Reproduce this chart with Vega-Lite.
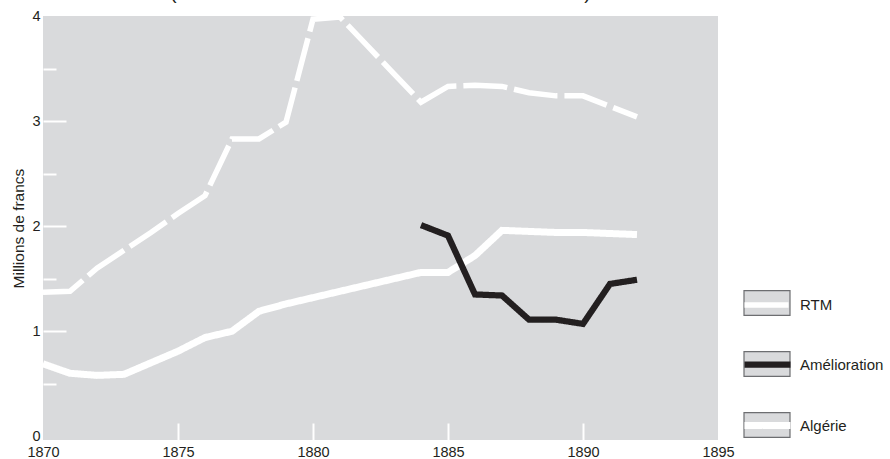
{
  "$schema": "https://vega.github.io/schema/vega-lite/v6.json",
  "width": 675,
  "height": 424,
  "autosize": {"type": "none"},
  "padding": {"left": 43, "top": 16, "right": 172, "bottom": 19},
  "title": {
    "text": "(Revue des Eaux et Forêts et Annales forestières)",
    "font": "Liberation Sans",
    "fontSize": 19,
    "fontWeight": "normal",
    "color": "#231f20",
    "anchor": "middle",
    "frame": "group",
    "baseline": "alphabetic",
    "offset": 0,
    "dy": 12
  },
  "config": {
    "view": {"fill": "#d9dadc", "stroke": null},
    "font": "Liberation Sans",
    "axis": {"grid": false, "domain": false, "labelColor": "#231f20", "labelFontSize": 14.5, "titleColor": "#231f20", "titleFontWeight": "normal", "titleFontSize": 15.5}
  },
  "data": {
    "values": [
      {"series": "RTM", "year": 1870, "value": 1.37},
      {"series": "RTM", "year": 1871, "value": 1.38},
      {"series": "RTM", "year": 1872, "value": 1.6},
      {"series": "RTM", "year": 1873, "value": 1.77},
      {"series": "RTM", "year": 1874, "value": 1.94},
      {"series": "RTM", "year": 1875, "value": 2.12},
      {"series": "RTM", "year": 1876, "value": 2.29},
      {"series": "RTM", "year": 1877, "value": 2.83},
      {"series": "RTM", "year": 1878, "value": 2.83},
      {"series": "RTM", "year": 1879, "value": 2.99},
      {"series": "RTM", "year": 1880, "value": 3.97},
      {"series": "RTM", "year": 1881, "value": 3.99},
      {"series": "RTM", "year": 1882, "value": 3.72},
      {"series": "RTM", "year": 1883, "value": 3.45},
      {"series": "RTM", "year": 1884, "value": 3.18},
      {"series": "RTM", "year": 1885, "value": 3.33},
      {"series": "RTM", "year": 1886, "value": 3.34},
      {"series": "RTM", "year": 1887, "value": 3.33},
      {"series": "RTM", "year": 1888, "value": 3.27},
      {"series": "RTM", "year": 1889, "value": 3.24},
      {"series": "RTM", "year": 1890, "value": 3.24},
      {"series": "RTM", "year": 1891, "value": 3.14},
      {"series": "RTM", "year": 1892, "value": 3.04},
      {"series": "Algérie", "year": 1870, "value": 0.69},
      {"series": "Algérie", "year": 1871, "value": 0.6},
      {"series": "Algérie", "year": 1872, "value": 0.58},
      {"series": "Algérie", "year": 1873, "value": 0.59},
      {"series": "Algérie", "year": 1874, "value": 0.7},
      {"series": "Algérie", "year": 1875, "value": 0.81},
      {"series": "Algérie", "year": 1876, "value": 0.94},
      {"series": "Algérie", "year": 1877, "value": 1.0},
      {"series": "Algérie", "year": 1878, "value": 1.19},
      {"series": "Algérie", "year": 1879, "value": 1.26},
      {"series": "Algérie", "year": 1880, "value": 1.32},
      {"series": "Algérie", "year": 1881, "value": 1.38},
      {"series": "Algérie", "year": 1882, "value": 1.44},
      {"series": "Algérie", "year": 1883, "value": 1.5},
      {"series": "Algérie", "year": 1884, "value": 1.56},
      {"series": "Algérie", "year": 1885, "value": 1.56},
      {"series": "Algérie", "year": 1886, "value": 1.72},
      {"series": "Algérie", "year": 1887, "value": 1.96},
      {"series": "Algérie", "year": 1888, "value": 1.95},
      {"series": "Algérie", "year": 1889, "value": 1.94},
      {"series": "Algérie", "year": 1890, "value": 1.94},
      {"series": "Algérie", "year": 1891, "value": 1.93},
      {"series": "Algérie", "year": 1892, "value": 1.92},
      {"series": "Amélioration", "year": 1884, "value": 2.01},
      {"series": "Amélioration", "year": 1885, "value": 1.91},
      {"series": "Amélioration", "year": 1886, "value": 1.35},
      {"series": "Amélioration", "year": 1887, "value": 1.34},
      {"series": "Amélioration", "year": 1888, "value": 1.11},
      {"series": "Amélioration", "year": 1889, "value": 1.11},
      {"series": "Amélioration", "year": 1890, "value": 1.07},
      {"series": "Amélioration", "year": 1891, "value": 1.45},
      {"series": "Amélioration", "year": 1892, "value": 1.49}
    ]
  },
  "encoding": {
    "x": {
      "field": "year",
      "type": "quantitative",
      "scale": {"domain": [1870, 1895], "nice": false, "zero": false},
      "axis": {
        "title": null,
        "values": [1870, 1875, 1880, 1885, 1890, 1895],
        "format": "d",
        "tickSize": -17,
        "tickWidth": 2,
        "tickColor": {"condition": {"test": "datum.value == 1870 || datum.value == 1895", "value": "transparent"}, "value": "#ffffff"},
        "labelPadding": 22,
        "labelFlush": false
      }
    },
    "y": {
      "field": "value",
      "type": "quantitative",
      "scale": {"domain": [-0.035, 4], "nice": false, "zero": false},
      "axis": {
        "title": "Millions de francs",
        "values": [0, 0.5, 1, 1.5, 2, 2.5, 3, 3.5, 4],
        "labelExpr": "datum.value % 1 === 0 ? format(datum.value, 'd') : ''",
        "tickSize": {"condition": {"test": "datum.value % 1 === 0", "value": -23}, "value": -13},
        "tickWidth": 2,
        "tickColor": {"condition": {"test": "datum.value == 0 || datum.value == 4", "value": "transparent"}, "value": "#ffffff"},
        "labelPadding": 26,
        "titlePadding": 5
      }
    }
  },
  "layer": [
    {
      "mark": {"type": "point", "shape": "square", "filled": true, "opacity": 0},
      "encoding": {
        "fill": {
          "field": "series",
          "type": "nominal",
          "sort": "descending",
          "scale": {"range": ["#d9dadc", "#d9dadc", "#d9dadc"]},
          "legend": {
            "orient": "none",
            "legendX": 700,
            "legendY": 263,
            "title": null,
            "symbolType": "M-1,-0.54H1V0.54H-1Z",
            "symbolSize": 2116,
            "labelExpr": "''",
            "rowPadding": 22,
            "padding": 0,
            "zindex": 0,
            "encode": {"symbols": {"update": {"stroke": {"value": "#6d6e71"}, "strokeWidth": {"value": 1.2}, "fill": {"value": "#d9dadc"}, "opacity": {"value": 1}}}}
          }
        }
      }
    },
    {
      "mark": {"type": "line", "strokeCap": "butt"},
      "encoding": {
        "stroke": {
          "field": "series",
          "type": "nominal",
          "scale": {"domain": ["RTM", "Amélioration", "Algérie"], "range": ["#ffffff", "#231f20", "#ffffff"]},
          "legend": {
            "orient": "none",
            "legendX": 698,
            "legendY": 263,
            "title": null,
            "symbolType": "stroke",
            "symbolSize": 2116,
            "symbolStrokeWidth": 5,
            "labelFontSize": 15,
            "labelColor": "#231f20",
            "labelOffset": 6,
            "rowPadding": 22,
            "padding": 0,
            "zindex": 1,
            "encode": {"symbols": {"update": {
              "strokeDash": {"signal": "datum.label == 'RTM' ? [20, 5] : [100, 0]"},
              "strokeWidth": {"signal": "datum.label == 'Amélioration' ? 7 : 5"}
            }}}
          }
        },
        "strokeDash": {
          "field": "series",
          "type": "nominal",
          "scale": {"domain": ["RTM", "Amélioration", "Algérie"], "range": [[44, 7], [1, 0], [1, 0]]},
          "legend": null
        },
        "strokeWidth": {
          "field": "series",
          "type": "nominal",
          "scale": {"domain": ["RTM", "Amélioration", "Algérie"], "range": [5.5, 7, 6]},
          "legend": null
        }
      }
    }
  ]
}
